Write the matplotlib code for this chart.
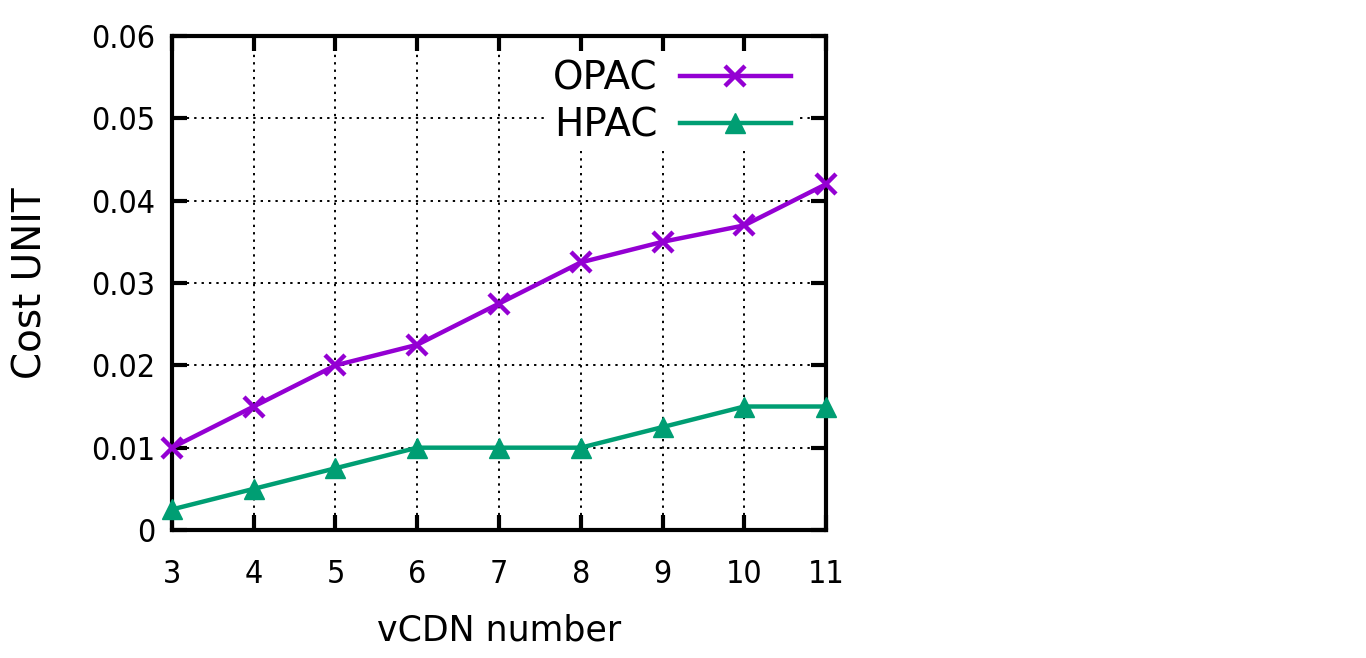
import matplotlib
matplotlib.use("Agg")
import matplotlib.pyplot as plt

plt.rcParams['font.family'] = ['DejaVu Sans']

# data
vcdn = [3, 4, 5, 6, 7, 8, 9, 10, 11]
opac = [0.01, 0.015, 0.02, 0.0225, 0.0275, 0.0325, 0.035, 0.037, 0.042]
hpac = [0.0025, 0.005, 0.0075, 0.01, 0.01, 0.01, 0.0125, 0.015, 0.015]
yticks = [0, 0.01, 0.02, 0.03, 0.04, 0.05, 0.06]
ytick_labels = ['0', '0.01', '0.02', '0.03', '0.04', '0.05', '0.06']

fig = plt.figure(figsize=(13.66, 6.58), dpi=100)
ax = fig.add_axes([0.1259, 0.1945, 0.4788, 0.7508])

ax.plot(vcdn, opac, color='#9400D3', lw=3.2, marker='x', ms=15, mew=3.2,
        label='OPAC', clip_on=False, zorder=3)
ax.plot(vcdn, hpac, color='#009E73', lw=3.2, marker='^', ms=14,
        label='HPAC', clip_on=False, zorder=3)

ax.set_xlim(3, 11)
ax.set_ylim(0, 0.06)
ax.set_xticks(vcdn)
ax.set_yticks(yticks)
ax.set_yticklabels(ytick_labels)

# dotted grid drawn by hand so the legend box can sit between grid and ticks
for y in yticks[1:-1]:
    ax.axhline(y, color='black', linestyle=(0, (1.2, 2.6)), lw=1.4, zorder=1)
for x in vcdn[1:-1]:
    ax.axvline(x, color='black', linestyle=(0, (1.2, 2.6)), lw=1.4, zorder=1)
ax.set_axisbelow(False)

ax.tick_params(direction='in', length=11, width=3, top=True, right=True,
               labelsize=23)
ax.tick_params(axis='x', pad=21)
ax.tick_params(axis='y', pad=12)
for lbl in ax.get_xticklabels() + ax.get_yticklabels():
    lbl.set_fontstretch('condensed')
for s in ax.spines.values():
    s.set_linewidth(3)

ax.set_xlabel('vCDN number', fontsize=25, labelpad=17)
ax.set_ylabel('Cost UNIT', fontsize=28, labelpad=30)

leg = ax.legend(loc='upper right', frameon=True, markerfirst=False,
                fontsize=28, handlelength=2.85, handletextpad=0.57,
                labelspacing=0.25, borderpad=0.15, borderaxespad=0,
                bbox_to_anchor=(0.955, 0.965), fancybox=False)
leg.get_frame().set_facecolor('white')
leg.get_frame().set_edgecolor('none')
leg.get_frame().set_alpha(1)
leg.set_zorder(2)

fig.savefig('out.png', dpi=100)
